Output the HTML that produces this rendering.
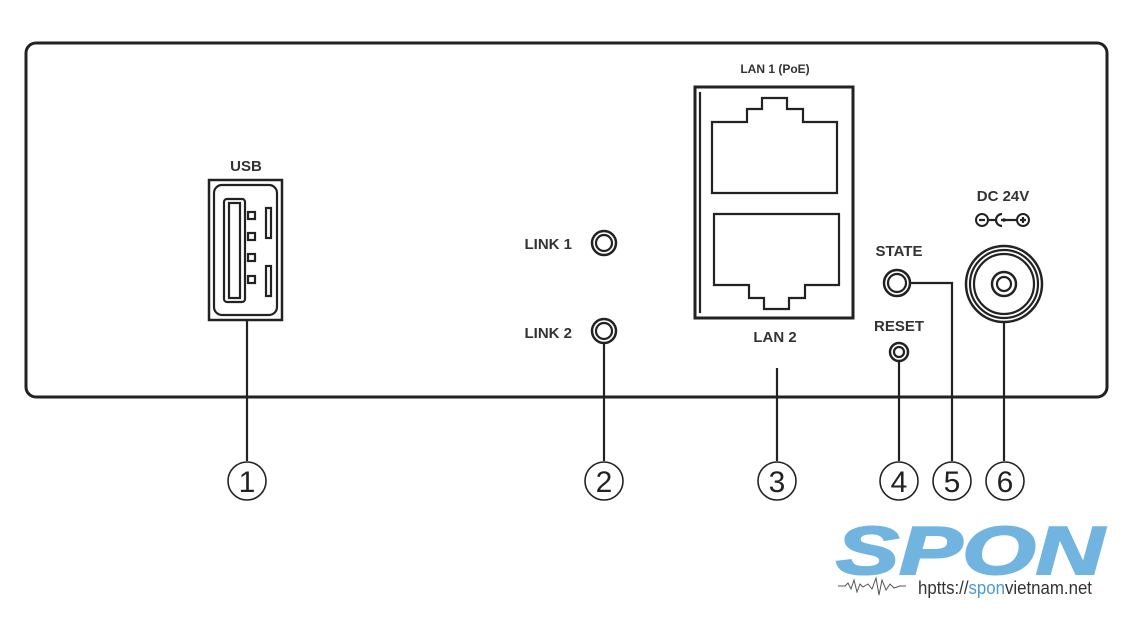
<!DOCTYPE html>
<html><head><meta charset="utf-8"><style>
html,body{margin:0;padding:0;background:#fff;}
svg{display:block;}
text{font-family:"Liberation Sans",sans-serif;}
</style></head><body>
<svg width="1130" height="617" viewBox="0 0 1130 617" xmlns="http://www.w3.org/2000/svg">
<rect x="0" y="0" width="1130" height="617" fill="#fff"/>
<rect x="26" y="43" width="1081" height="354" rx="10" fill="none" stroke="#222" stroke-width="3"/>
<g fill="#333" font-weight="bold" font-size="15">
<text x="246" y="171" text-anchor="middle">USB</text>
<text x="572" y="249" text-anchor="end">LINK 1</text>
<text x="572" y="338" text-anchor="end">LINK 2</text>
<text x="775" y="73" text-anchor="middle" font-size="12">LAN 1 (PoE)</text>
<text x="775" y="342" text-anchor="middle">LAN 2</text>
<text x="899" y="256" text-anchor="middle">STATE</text>
<text x="899" y="331" text-anchor="middle">RESET</text>
<text x="1003" y="201" text-anchor="middle">DC 24V</text>
</g>
<g fill="none" stroke="#222" stroke-width="2.2">
<rect x="209" y="180" width="73" height="140" stroke-width="2.5"/>
<rect x="214" y="185" width="63" height="130" rx="8"/>
<rect x="224" y="199" width="21" height="103" rx="3"/>
<rect x="229" y="203" width="11" height="95"/>
<rect x="248" y="212" width="7" height="7"/><rect x="248" y="233" width="7" height="7"/>
<rect x="248" y="254" width="7" height="7"/><rect x="248" y="276" width="7" height="7"/>
<rect x="266" y="208" width="5" height="30"/><rect x="266" y="266" width="5" height="30"/>
<line x1="247" y1="320" x2="247" y2="461"/>
<circle cx="604" cy="243" r="12" stroke-width="2.5"/><circle cx="604" cy="243" r="8"/>
<circle cx="604" cy="331" r="12" stroke-width="2.5"/><circle cx="604" cy="331" r="8"/>
<line x1="604" y1="343" x2="604" y2="461"/>
<rect x="695" y="87" width="158" height="231" stroke-width="3"/>
<line x1="700" y1="92" x2="700" y2="313"/>
<path d="M712 193 V122 H747 V109 H762 V98 H787 V109 H803 V122 H837 V193 Z"/>
<path d="M714 214 V285 H749 V298 H764 V309 H789 V298 H805 V285 H839 V214 Z"/>
<line x1="777" y1="368" x2="777" y2="461"/>
<circle cx="897" cy="283" r="13" stroke-width="2.5"/><circle cx="897" cy="283" r="9"/>
<polyline points="910,283 952,283 952,461"/>
<circle cx="899" cy="352" r="9" stroke-width="2.5"/><circle cx="899" cy="352" r="5"/>
<line x1="899" y1="361" x2="899" y2="461"/>
<circle cx="1004" cy="284" r="38" stroke-width="2.5"/><circle cx="1004" cy="284" r="34"/><circle cx="1004" cy="284" r="30"/>
<circle cx="1004" cy="284" r="12" stroke-width="2.5"/><circle cx="1004" cy="284" r="7"/>
<line x1="1004" y1="322" x2="1004" y2="461"/>
<circle cx="982" cy="220" r="6" stroke-width="2"/><line x1="979" y1="220" x2="985" y2="220"/>
<line x1="988" y1="220" x2="996" y2="220"/>
<path d="M1002 214 A6 6 0 0 0 1002 226"/>
<line x1="1001" y1="220" x2="1017" y2="220"/>
<circle cx="1023" cy="220" r="6" stroke-width="2"/><line x1="1020" y1="220" x2="1026" y2="220"/><line x1="1023" y1="217" x2="1023" y2="223"/>
<circle cx="247" cy="481" r="19" stroke-width="1.6"/>
<circle cx="604" cy="481" r="19" stroke-width="1.6"/>
<circle cx="777" cy="481" r="19" stroke-width="1.6"/>
<circle cx="899" cy="481" r="19" stroke-width="1.6"/>
<circle cx="952" cy="481" r="19" stroke-width="1.6"/>
<circle cx="1005" cy="481" r="19" stroke-width="1.6"/>
</g>
<circle cx="1004" cy="220" r="1.8" fill="#222"/>
<g fill="#222" font-size="30" text-anchor="middle">
<text x="247" y="492">1</text><text x="604" y="492">2</text><text x="777" y="492">3</text>
<text x="899" y="492">4</text><text x="952" y="492">5</text><text x="1005" y="492">6</text>
</g>
<text x="836" y="574" font-size="68" font-weight="bold" font-style="italic" fill="#72b4e0" stroke="#72b4e0" stroke-width="2" textLength="268" lengthAdjust="spacingAndGlyphs">SPON</text>
<polyline points="838,586 845,586 848,583 851,589 854,580 857,592 860,584 863,587 868,584 872,589 876,578 879,595 882,580 886,590 890,584 894,588 900,586 906,586" fill="none" stroke="#555" stroke-width="1"/>
<text x="918" y="594" font-size="18" fill="#333" textLength="174" lengthAdjust="spacingAndGlyphs">hptts://<tspan fill="#4a9ad4">spon</tspan>vietnam.net</text>
</svg>
</body></html>
